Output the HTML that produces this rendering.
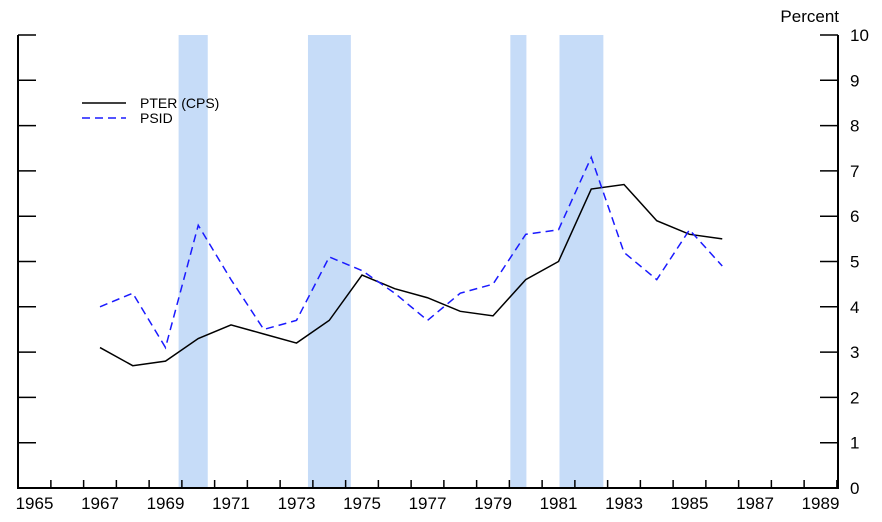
<!DOCTYPE html>
<html><head><meta charset="utf-8"><style>
body{margin:0;background:#fff}
svg{display:block;font-family:"Liberation Sans",Arial,sans-serif}
</style></head><body>
<svg id="chart" width="882" height="522"></svg>
<script>
const years=[1967,1968,1969,1970,1971,1972,1973,1974,1975,1976,1977,1978,1979,1980,1981,1982,1983,1984,1985,1986];
const pter=[3.1,2.7,2.8,3.3,3.6,3.4,3.2,3.7,4.7,4.4,4.2,3.9,3.8,4.6,5.0,6.6,6.7,5.9,5.6,5.5];
const psid=[4.0,4.3,3.1,5.8,4.6,3.5,3.7,5.1,4.8,4.3,3.7,4.3,4.5,5.6,5.7,7.3,5.2,4.6,5.7,4.9];
const recessions=[[1969.4,1970.29],[1973.35,1974.66],[1979.53,1980.02],[1981.03,1982.37]];
const xLabels=[1965,1967,1969,1971,1973,1975,1977,1979,1981,1983,1985,1987,1989];
const yTicks=[0,1,2,3,4,5,6,7,8,9,10];
const NS="http://www.w3.org/2000/svg";
const svg=document.getElementById('chart');
const X=y=>34.5+(y-1965)*32.75;
const Y=v=>488-v*45.3;
function el(t,a,p){const e=document.createElementNS(NS,t);for(const k in a)e.setAttribute(k,a[k]);(p||svg).appendChild(e);return e;}
recessions.forEach(r=>{
 const e=el('rect',{x:X(r[0]),y:35,width:X(r[1])-X(r[0]),height:453,fill:'#c6dcf8'});
 
 
});
let a=el('path',{d:'M18,35V488H838V35',fill:'none',stroke:'#000','stroke-width':2});


yTicks.forEach(v=>{
 el('line',{x1:18,x2:36,y1:Y(v),y2:Y(v),stroke:'#000','stroke-width':1.5});
 el('line',{x1:820,x2:838,y1:Y(v),y2:Y(v),stroke:'#000','stroke-width':1.5});
 const t=el('text',{x:850,y:Y(v)+6,'font-size':17});t.textContent=v;
 
 
});
for(let y=1965;y<=1989;y++){el('line',{x1:X(y+0.5),x2:X(y+0.5),y1:480,y2:488,stroke:'#000','stroke-width':1.5});}
xLabels.forEach(y=>{
 const t=el('text',{x:X(y),y:509,'font-size':17,'text-anchor':'middle'});t.textContent=y;
 
 
});
const u=el('text',{x:839,y:22,'font-size':17,'text-anchor':'end'});u.textContent='Percent';


function line(vals,attrs,name){
 const d=vals.map((v,i)=>(i?'L':'M')+X(years[i])+','+Y(v)).join('');
 const p=el('path',Object.assign({d:d,fill:'none'},attrs));
 
 
}
line(pter,{stroke:'#000','stroke-width':1.5},'pter-line');
line(psid,{stroke:'#1a1aff','stroke-width':1.5,'stroke-dasharray':'8,5'},'psid-line');
el('line',{x1:82,x2:126,y1:103,y2:103,stroke:'#000','stroke-width':1.5});
el('line',{x1:82,x2:126,y1:118,y2:118,stroke:'#1a1aff','stroke-width':1.5,'stroke-dasharray':'8,5'});
let l1=el('text',{x:140,y:108,'font-size':14});l1.textContent='PTER (CPS)';


let l2=el('text',{x:140,y:123,'font-size':14});l2.textContent='PSID';


</script>
</body></html>
